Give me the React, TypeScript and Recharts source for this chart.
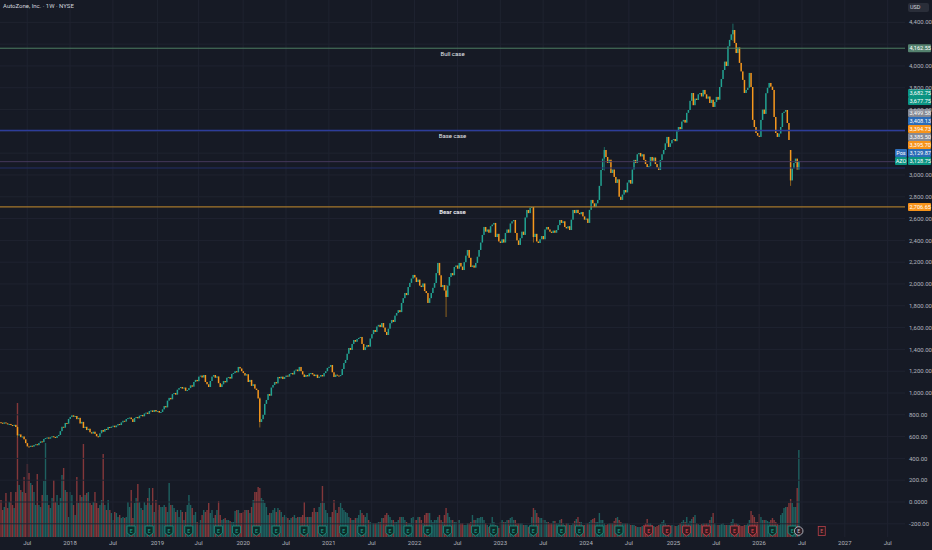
import React from 'react';
import { ComposedChart, Bar, XAxis, YAxis, ReferenceLine, ReferenceDot } from 'recharts';

const BG = '#161a25';
const GRID = '#1f2330';
const UP = '#22a392';
const DOWN = '#f7981d';
const UP_WICK = '#1b6a62';
const DOWN_WICK = '#8e621f';
const VOL_UP = 'rgba(38,166,154,0.5)';
const VOL_DOWN = 'rgba(239,83,80,0.5)';
const AXIS_TEXT = '#b2b5be';
const FONT = 'Roboto, "Noto Sans", sans-serif';

const W = 932;
const H = 550;
const AXIS_W = 27;
const AXIS_H = 13;
const TOTAL_WEEKS = 549;

// weekly closes, first bar is mid-March 2017
const firstOpen = 732;
const closes2017 = [
  727, 718, 730, 722, 712, 716, 706, 700, 708, 688, 612, 620, 595, 601, 575, 540, 510, 505, 516, 508, 523,
  530, 521, 541, 556, 549, 578, 587, 592, 581, 594, 603, 596, 588, 605, 615, 650, 690, 682, 725, 718, 762,
];
const closes2018 = [
  780, 795, 782, 789, 760, 772, 720, 735, 679, 690, 660, 672, 640, 628, 645, 625, 603, 596, 630, 660, 645,
  670, 662, 688, 680, 692, 700, 686, 702, 715, 706, 730, 745, 738, 761, 770, 775, 760, 734, 771, 780, 768,
  792, 798, 786, 812, 820, 808, 835, 840, 826, 844, 830,
];
const closes2019 = [
  835, 820, 826, 850, 880, 868, 930, 955, 942, 990, 1000, 985, 1030, 1045, 1055, 1040, 1050, 1020, 1027,
  1045, 1070, 1058, 1101, 1120, 1108, 1150, 1160, 1142, 1165, 1101, 1080, 1055, 1110, 1150, 1165, 1140,
  1152, 1090, 1055, 1080, 1110, 1098, 1140, 1147, 1132, 1175, 1183, 1200, 1190, 1239, 1225, 1200,
];
const closes2020 = [
  1183, 1160, 1172, 1101, 1120, 1065, 1080, 1040, 1027, 950, 734, 760, 800, 900, 936, 990, 975, 1050,
  1073, 1100, 1088, 1147, 1135, 1150, 1128, 1147, 1160, 1150, 1175, 1183, 1170, 1205, 1215, 1200, 1239,
  1200, 1170, 1147, 1165, 1152, 1180, 1183, 1170, 1155, 1168, 1138, 1150, 1165, 1152, 1183, 1200, 1230,
];
const closes2021 = [
  1240, 1257, 1190, 1147, 1168, 1160, 1155, 1165, 1220, 1275, 1303, 1360, 1413, 1395, 1450, 1486, 1470,
  1495, 1505, 1514, 1450, 1394, 1420, 1440, 1425, 1500, 1540, 1578, 1560, 1610, 1625, 1605, 1642, 1600,
  1560, 1532, 1590, 1640, 1670, 1652, 1710, 1734, 1760, 1742, 1826, 1870, 1917, 1898, 1972, 2010, 2050, 2083,
];
const closes2022 = [
  2060, 2018, 2040, 1985, 1972, 2005, 1935, 1917, 1826, 1870, 1917, 1965, 2009, 2100, 2193, 2080, 1972,
  1990, 1940, 1881, 1985, 2064, 2100, 2080, 2156, 2170, 2140, 2193, 2160, 2128, 2200, 2260, 2312, 2240,
  2156, 2170, 2150, 2193, 2250, 2312, 2380, 2450, 2523, 2480, 2500, 2470, 2530, 2545, 2560, 2431, 2460, 2390,
];
const closes2023 = [
  2376, 2410, 2380, 2468, 2500, 2470, 2555, 2575, 2587, 2468, 2400, 2358, 2420, 2480, 2450, 2610, 2679,
  2650, 2700, 2706, 2431, 2460, 2390, 2376, 2410, 2440, 2410, 2500, 2523, 2500, 2480, 2468, 2490, 2470,
  2495, 2540, 2587, 2560, 2575, 2523, 2510, 2530, 2495, 2590, 2679, 2650, 2680, 2651, 2640, 2660, 2620, 2590,
];
const closes2024 = [
  2600, 2560, 2680, 2771, 2740, 2706, 2740, 2771, 2900, 3046, 3150, 3229, 3165, 3110, 3140, 3018, 3050,
  2982, 2927, 2960, 2800, 2771, 2820, 2862, 2840, 2930, 2954, 2920, 3050, 3138, 3110, 3190, 3202, 3170,
  3190, 3138, 3100, 3073, 3080, 3165, 3130, 3160, 3100, 3070, 3046, 3138, 3190, 3229, 3290, 3349, 3257,
  3290, 3321,
];
const closes2025 = [
  3330, 3310, 3400, 3440, 3420, 3490, 3505, 3480, 3570, 3596, 3680, 3752, 3640, 3700, 3688, 3740, 3752,
  3720, 3780, 3740, 3700, 3720, 3660, 3690, 3624, 3670, 3716, 3690, 3807, 3880, 3963, 4040, 4000, 4180,
  4239, 4290, 4330, 4211, 4119, 4170, 4028, 3950, 3872, 3752, 3780, 3800, 3936, 3807, 3505, 3440, 3385, 3360,
];
const closes2026 = [
  3349, 3505, 3600, 3560, 3750, 3800, 3844, 3810, 3780, 3532, 3385, 3349, 3380, 3440, 3569, 3580, 3596,
  3477, 3321, 2950, 3060, 3110, 3150, 3050, 3128.75,
];

// weekly volume (x10k shares)
const vol2017 = [
  37, 27, 30, 44, 29, 35, 45, 32, 29, 45, 134, 52, 47, 45, 60, 44, 73, 64, 54, 52, 45, 32, 63, 32, 30, 42,
  56, 94, 42, 32, 29, 39, 57, 35, 42, 32, 39, 62, 69, 47, 45, 20,
];
const vol2018 = [
  45, 42, 32, 22, 60, 34, 42, 40, 93, 42, 44, 45, 34, 32, 35, 45, 34, 29, 32, 37, 83, 32, 27, 37, 27, 24,
  17, 25, 24, 20, 22, 19, 20, 19, 20, 35, 30, 47, 19, 34, 39, 53, 35, 29, 27, 35, 32, 39, 49, 32, 49, 25, 37,
];
const vol2019 = [
  27, 32, 30, 30, 32, 30, 25, 54, 32, 32, 29, 25, 27, 20, 27, 25, 17, 25, 32, 42, 32, 29, 22, 25, 15, 12,
  17, 22, 27, 25, 27, 34, 24, 27, 19, 22, 27, 36, 22, 17, 18, 19, 17, 17, 16, 15, 15, 26, 27, 27, 24, 24,
];
const vol2020 = [
  25, 27, 27, 27, 24, 30, 37, 45, 45, 50, 49, 39, 37, 34, 30, 22, 24, 24, 27, 29, 25, 29, 27, 25, 20, 22,
  20, 19, 17, 19, 20, 22, 19, 20, 20, 20, 22, 35, 20, 20, 20, 20, 25, 29, 25, 25, 30, 34, 51, 34, 27, 24,
];
const vol2021 = [
  20, 20, 25, 37, 27, 24, 30, 34, 29, 27, 25, 24, 20, 19, 17, 17, 19, 19, 22, 27, 24, 22, 20, 24, 17, 15,
  14, 14, 14, 14, 15, 15, 19, 19, 22, 24, 22, 20, 17, 17, 15, 15, 17, 20, 20, 20, 17, 15, 14, 14, 19, 20,
];
const vol2022 = [
  17, 17, 20, 20, 17, 14, 22, 24, 24, 24, 17, 15, 17, 17, 20, 22, 17, 15, 22, 29, 24, 20, 17, 17, 15, 15,
  17, 17, 14, 14, 12, 12, 14, 14, 15, 22, 17, 17, 19, 19, 20, 20, 17, 14, 12, 10, 14, 20, 15, 12, 10, 9,
];
const vol2023 = [
  15, 17, 15, 15, 17, 17, 19, 20, 17, 17, 14, 14, 14, 14, 12, 12, 12, 10, 12, 20, 29, 27, 24, 20, 19, 19,
  17, 17, 15, 15, 14, 14, 16, 16, 14, 14, 17, 18, 14, 12, 14, 14, 12, 12, 14, 16, 18, 20, 15, 15, 12, 12,
];
const vol2024 = [
  14, 14, 15, 17, 18, 19, 15, 15, 24, 17, 17, 14, 12, 13, 14, 14, 14, 16, 19, 20, 17, 15, 14, 14, 14, 14,
  13, 12, 12, 12, 11, 10, 10, 10, 11, 12, 14, 18, 14, 14, 12, 11, 10, 11, 12, 13, 15, 17, 14, 12, 12, 11, 12,
];
const vol2025 = [
  12, 11, 11, 12, 14, 15, 17, 15, 20, 14, 16, 18, 20, 22, 14, 13, 12, 13, 14, 14, 14, 14, 17, 20, 24, 14,
  12, 12, 12, 13, 14, 12, 12, 12, 12, 15, 18, 14, 14, 13, 12, 11, 11, 12, 12, 14, 17, 26, 22, 20, 15, 15,
];
const vol2026 = [
  23, 20, 17, 17, 17, 16, 15, 17, 19, 17, 15, 13, 12, 22, 24, 29, 30, 30, 34, 38, 34, 30, 30, 49, 87,
];

// notable wicks: week, high, low
const wickWeeks = [10, 157, 270, 323, 366, 444, 479];
const wickHighs = [700, 960, 1990, 2706, 3256, 4388, 3229];
const wickLows = [590, 684, 1697, 2380, 3040, 4230, 2900];
// gap opens: week, open
const gapWeeks = [479];
const gapOpens = [3229];

// earnings flags
const earningsBeat = [79, 90, 102, 114, 132, 143, 155, 167, 184, 195, 208, 219, 236, 247, 259, 271, 288, 299, 311, 323, 340, 351, 363, 375, 468, 480];
const earningsMiss = [393, 404, 416, 428, 445, 456];
const eventWeeks = [484];
const nextEarnings = [498];

const tickWeeks = [16, 42, 68, 95, 120, 147, 173, 199, 225, 251, 277, 303, 329, 355, 381, 408, 434, 460, 486, 512, 538];
const tickLabels = ['Jul', '2018', 'Jul', '2019', 'Jul', '2020', 'Jul', '2021', 'Jul', '2022', 'Jul', '2023', 'Jul', '2024', 'Jul', '2025', 'Jul', '2026', 'Jul', '2027', 'Jul'];
const priceTicks = [-200, 0, 200, 400, 600, 800, 1000, 1200, 1400, 1600, 1800, 2000, 2200, 2400, 2600, 2800, 3000, 3200, 3400, 3600, 3800, 4000, 4200, 4400];
// price labels sitting under the tags on the right
const coveredTicks = [3200, 3400, 4200];
const priceDomain = [-321, 4605];

const bullLevel = 4162.55;
const baseLevel = 3408.13;
const bearLevel = 2706.65;
const posLevel = 3122;
const avgLevel = 3064;

const upperTags = ['3,682.75', '3,677.75'];
const upperTagColors = ['#0b9482', '#0b9482'];
const upperTagLevel = 3677.75;
const lowerTags = ['3,499.58', '3,408.13', '3,394.73', '3,385.50', '3,395.70', '3,129.87', '3,128.75'];
const lowerTagPrefixes = ['', '', '', '', '', 'Pos', 'AZO'];
const lowerTagColors = ['#868993', '#2c6cb8', '#f7931a', '#868993', '#f7931a', '#2c6cb8', '#0b9482'];

const closes = [
  ...closes2017, ...closes2018, ...closes2019, ...closes2020, ...closes2021,
  ...closes2022, ...closes2023, ...closes2024, ...closes2025, ...closes2026,
];
const volumes = [
  ...vol2017, ...vol2018, ...vol2019, ...vol2020, ...vol2021,
  ...vol2022, ...vol2023, ...vol2024, ...vol2025, ...vol2026,
];
const axisTicks = priceTicks.filter((v) => !coveredTicks.includes(v));

type Row = { i: number; open?: number; close?: number; high?: number; low?: number; volume?: number; up?: boolean };

const rows: Row[] = [];
for (let i = 0; i < TOTAL_WEEKS; i++) {
  if (i >= closes.length) {
    rows.push({ i });
    continue;
  }
  const close = closes[i];
  const g = gapWeeks.indexOf(i);
  const open = g >= 0 ? gapOpens[g] : i === 0 ? firstOpen : closes[i - 1];
  const w = wickWeeks.indexOf(i);
  const high = Math.max(open, close, w >= 0 ? wickHighs[w] : -Infinity);
  const low = Math.min(open, close, w >= 0 ? wickLows[w] : Infinity);
  rows.push({ i, open, close, high, low, volume: volumes[i], up: close >= open });
}

const candleRange = (d: Row) => (d.close == null ? null : [d.low, d.high]);

function Candle(props: any) {
  const { x, y, width, height, payload } = props;
  if (!payload || payload.close == null) return null;
  const { open, close, high, low, up } = payload;
  const cx = x + width / 2;
  const span = high - low;
  const k = span > 0 ? height / span : 0;
  const top = y + (high - Math.max(open, close)) * k;
  const bodyH = Math.max(1, Math.abs(close - open) * k);
  return (
    <g>
      {span > Math.abs(close - open) && (
        <line x1={cx} x2={cx} y1={y} y2={y + height} stroke={up ? UP_WICK : DOWN_WICK} strokeWidth={1} />
      )}
      <rect x={cx - 0.75} y={top} width={1.5} height={bodyH} fill={up ? UP : DOWN} />
    </g>
  );
}

function VolumeBar(props: any) {
  const { x, y, width, height, payload } = props;
  if (!payload || payload.volume == null) return null;
  const cx = x + width / 2;
  return <rect x={cx - 0.7} y={y} width={1.4} height={Math.max(0, height)} fill={payload.up ? VOL_UP : VOL_DOWN} />;
}

function Badge(props: any) {
  const { cx, cy, kind } = props;
  const y = cy - 6;
  if (kind === 'event') {
    return (
      <g>
        <circle cx={cx} cy={y} r={4.3} fill="#2a1e26" stroke="#c8cbd3" strokeWidth={0.8} />
        <text x={cx} y={y + 1.8} textAnchor="middle" fontSize={5} fill="#c8cbd3" fontFamily={FONT}>E</text>
      </g>
    );
  }
  if (kind === 'next') {
    return (
      <g>
        <rect x={cx - 3.5} y={y - 4.5} width={7} height={9} fill="#24191f" stroke="#b8404a" strokeWidth={0.8} />
        <text x={cx} y={y + 1.8} textAnchor="middle" fontSize={5} fill="#d35a62" fontFamily={FONT}>E</text>
      </g>
    );
  }
  const stroke = kind === 'beat' ? '#1b8c7d' : '#bf3d47';
  const fill = kind === 'beat' ? '#0e2a28' : '#361a20';
  return (
    <g>
      <path
        d={`M${cx - 4},${y - 5} H${cx + 4} V${y + 2} L${cx},${y + 5} L${cx - 4},${y + 2} Z`}
        fill={fill}
        stroke={stroke}
        strokeWidth={0.9}
      />
      <text x={cx} y={y + 1.6} textAnchor="middle" fontSize={5} fill={stroke} fontWeight={700} fontFamily={FONT}>E</text>
    </g>
  );
}

const fmtPrice = (v: number) =>
  v === 0 ? '0.0000' : v.toLocaleString('en-US', { minimumFractionDigits: 2, maximumFractionDigits: 2 });

function levelLabel(caption: string, bold: boolean, tags: string[], colors: string[], prefixes: string[]) {
  return (p: any) => {
    const vb = p.viewBox;
    if (!vb) return null;
    const x0 = vb.x + vb.width + 3;
    return (
      <g>
        {caption && (
          <text
            x={vb.x + vb.width / 2}
            y={vb.y + 7.5}
            textAnchor="middle"
            fontSize={6}
            fontWeight={bold ? 700 : 400}
            fill="#e6e8ee"
            fontFamily={FONT}
          >
            {caption}
          </text>
        )}
        {tags.map((t, k) => {
          const cy = vb.y - (tags.length - 1 - k) * 8;
          return (
            <g key={k}>
              {prefixes[k] && (
                <g>
                  <rect x={x0 - 13} y={cy - 4} width={12} height={8} fill={colors[k]} rx={1} />
                  <text x={x0 - 7} y={cy + 2.1} textAnchor="middle" fontSize={5.5} fill="#ffffff" fontFamily={FONT}>
                    {prefixes[k]}
                  </text>
                </g>
              )}
              <rect x={x0} y={cy - 4} width={23} height={8} fill={colors[k]} rx={1} />
              <text x={x0 + 1.5} y={cy + 2.1} fontSize={5.6} fill="#ffffff" fontFamily={FONT}>
                {t}
              </text>
            </g>
          );
        })}
      </g>
    );
  };
}

export default function App() {
  const layer: React.CSSProperties = { position: 'absolute', left: 0, top: 0 };
  return (
    <div style={{ position: 'relative', width: W, height: H, background: BG, overflow: 'hidden', fontFamily: FONT }}>
      <style>{`body{margin:0;background:${BG}}`}</style>

      {/* grid, volume and earnings flags */}
      <div style={layer}>
        <ComposedChart
          width={W}
          height={H}
          data={rows}
          margin={{ top: 0, right: AXIS_W, bottom: AXIS_H, left: 0 }}
          barCategoryGap={0}
          barGap={0}
        >
          <XAxis dataKey="i" hide />
          <YAxis yAxisId="vol" hide domain={[0, 537]} allowDataOverflow />
          <YAxis yAxisId="price" hide domain={priceDomain} allowDataOverflow />
          {tickWeeks.map((w) => (
            <ReferenceLine key={`vx${w}`} x={w} yAxisId="price" stroke={GRID} strokeWidth={1} />
          ))}
          {priceTicks.map((v) => (
            <ReferenceLine key={`hy${v}`} y={v} yAxisId="price" stroke={GRID} strokeWidth={1} />
          ))}
          <Bar dataKey="volume" yAxisId="vol" shape={VolumeBar} isAnimationActive={false} />
          {earningsBeat.map((w) => (
            <ReferenceDot key={`b${w}`} x={w} y={0} yAxisId="vol" r={0} shape={(p: any) => <Badge {...p} kind="beat" />} />
          ))}
          {earningsMiss.map((w) => (
            <ReferenceDot key={`m${w}`} x={w} y={0} yAxisId="vol" r={0} shape={(p: any) => <Badge {...p} kind="miss" />} />
          ))}
          {eventWeeks.map((w) => (
            <ReferenceDot key={`e${w}`} x={w} y={0} yAxisId="vol" r={0} shape={(p: any) => <Badge {...p} kind="event" />} />
          ))}
          {nextEarnings.map((w) => (
            <ReferenceDot key={`n${w}`} x={w} y={0} yAxisId="vol" r={0} shape={(p: any) => <Badge {...p} kind="next" />} />
          ))}
        </ComposedChart>
      </div>

      {/* price candles, levels and axes */}
      <div style={layer}>
        <ComposedChart
          width={W}
          height={H}
          data={rows}
          margin={{ top: 0, right: 0, bottom: 0, left: 0 }}
          barCategoryGap={0}
          barGap={0}
        >
          <XAxis
            dataKey="i"
            ticks={tickWeeks}
            interval={0}
            tickFormatter={(v: number) => tickLabels[tickWeeks.indexOf(v)] ?? ''}
            height={AXIS_H}
            axisLine={false}
            tickLine={false}
            tickSize={0}
            tickMargin={4}
            tick={{ fontSize: 6, fill: AXIS_TEXT, fontFamily: FONT }}
          />
          <YAxis
            yAxisId="price"
            orientation="right"
            width={AXIS_W}
            domain={priceDomain}
            allowDataOverflow
            ticks={axisTicks}
            interval={0}
            tickFormatter={fmtPrice}
            axisLine={false}
            tickLine={false}
            tickSize={0}
            tickMargin={4}
            tick={{ fontSize: 6, fill: AXIS_TEXT, fontFamily: FONT, textAnchor: 'start' }}
          />
          <ReferenceLine y={avgLevel} yAxisId="price" stroke="#232f66" strokeWidth={1} />
          <ReferenceLine y={posLevel} yAxisId="price" stroke="#45385c" strokeWidth={1} />
          <ReferenceLine
            y={bullLevel}
            yAxisId="price"
            stroke="#4d7d62"
            strokeWidth={1}
            label={levelLabel('Bull case', false, ['4,162.55'], ['#55826f'], [''])}
          />
          <ReferenceLine
            y={baseLevel}
            yAxisId="price"
            stroke="#2d3d9a"
            strokeWidth={1.4}
            label={levelLabel('Base case', false, [], [], [])}
          />
          <ReferenceLine
            y={bearLevel}
            yAxisId="price"
            stroke="#a4772b"
            strokeWidth={1.3}
            label={levelLabel('Bear case', true, ['2,706.65'], ['#f7931a'], [''])}
          />
          <Bar dataKey={candleRange} yAxisId="price" shape={Candle} isAnimationActive={false} />
          <ReferenceLine
            y={upperTagLevel}
            yAxisId="price"
            stroke="none"
            label={levelLabel('', false, upperTags, upperTagColors, ['', ''])}
          />
          <ReferenceLine
            y={closes[closes.length - 1]}
            yAxisId="price"
            stroke="none"
            label={levelLabel('', false, lowerTags, lowerTagColors, lowerTagPrefixes)}
          />
        </ComposedChart>
      </div>

      <div
        style={{ position: 'absolute', left: 3, top: 2, fontSize: 6, color: '#d1d4dc', whiteSpace: 'nowrap', lineHeight: '8px' }}
      >
        AutoZone, Inc. · 1W · NYSE
      </div>
      <div
        style={{
          position: 'absolute',
          left: 908,
          top: 3,
          width: 21,
          height: 9,
          background: '#2a2e39',
          borderRadius: 2,
          color: '#d1d4dc',
          fontSize: 5.5,
          lineHeight: '9px',
          paddingLeft: 2,
          boxSizing: 'border-box',
        }}
      >
        USD
      </div>
    </div>
  );
}
